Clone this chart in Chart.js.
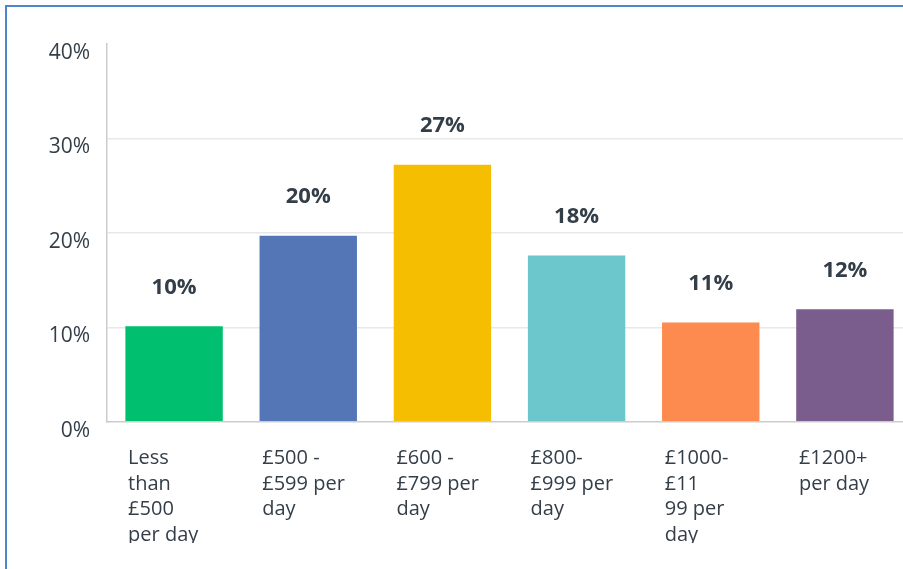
<!DOCTYPE html>
<html>
<head>
<meta charset="utf-8">
<script src="https://cdn.jsdelivr.net/npm/chart.js@4/dist/chart.umd.min.js"></script>
<style>
  html, body { margin: 0; padding: 0; background: #ffffff; overflow: hidden; width: 903px; height: 569px; }
  #c { position: absolute; left: 0; top: 0; }
  #frame { position: absolute; left: 5px; top: 5px; width: 1000px; height: 1000px;
           border-top: 2px solid #4f86c8; border-left: 2px solid #4f86c8; pointer-events: none; }
</style>
</head>
<body>
<canvas id="c" width="912" height="543"></canvas>
<div id="frame"></div>
<script>
// ---- data ----
const categories = [
  ["Less", "than", "£500", "per day"],
  ["£500 -", "£599 per", "day"],
  ["£600 -", "£799 per", "day"],
  ["£800-", "£999 per", "day"],
  ["£1000-", "£11", "99 per", "day"],
  ["£1200+", "per day"]
];
const values = [10.1, 19.7, 27.2, 17.6, 10.5, 11.9];
const barColors = ["#00bf6f", "#5476b6", "#f5be00", "#6bc7cc", "#fd8a4f", "#7a5d8d"];
const yMin = 0, yMax = 40, yStep = 10;

const FONT = "'Open Sans', sans-serif";
const TEXT = "#333e48";

const valueLabels = {
  id: 'valueLabels',
  afterDatasetsDraw(chart) {
    const ctx = chart.ctx;
    const meta = chart.getDatasetMeta(0);
    ctx.save();
    ctx.font = "bold 22px " + FONT;
    ctx.fillStyle = TEXT;
    ctx.textAlign = "center";
    ctx.textBaseline = "middle";
    meta.data.forEach((bar, i) => {
      ctx.fillText(Math.round(values[i]) + "%", bar.x, bar.y - 39);
    });
    ctx.restore();
  }
};

new Chart(document.getElementById('c'), {
  type: 'bar',
  data: {
    labels: categories,
    datasets: [{
      data: values,
      backgroundColor: barColors,
      borderWidth: 0,
      barPercentage: 0.726,
      categoryPercentage: 1.0
    }]
  },
  options: {
    responsive: false,
    animation: false,
    events: [],
    layout: { padding: { left: 0, top: 44, right: 0, bottom: 0 } },
    plugins: { legend: { display: false }, tooltip: { enabled: false } },
    scales: {
      x: {
        grid: { display: false },
        border: { display: true, color: '#cccccc', width: 1.5 },
        ticks: {
          autoSkip: false, maxRotation: 0, minRotation: 0,
          align: 'start', labelOffset: -46, padding: 16,
          color: TEXT,
          font: { family: FONT, size: 20, lineHeight: 1.28 }
        },
        afterFit(scale) {
          scale.height = 121.3;
          scale.paddingLeft = 0;
          scale.paddingRight = 0;
        }
      },
      y: {
        min: yMin, max: yMax,
        grid: {
          drawTicks: false,
          lineWidth: 1.5,
          color: (ctx) => (ctx.tick && (ctx.tick.value === yMax || ctx.tick.value === yMin)) ? 'rgba(0,0,0,0)' : '#e8e8e8'
        },
        border: { display: true, color: '#cccccc', width: 1.5 },
        ticks: {
          stepSize: yStep,
          padding: 17,
          labelOffset: 9,
          color: TEXT,
          font: { family: FONT, size: 21 },
          callback: (v) => v + '%'
        },
        afterFit(scale) {
          scale.width = 107;
          scale.paddingTop = 0;
          scale.paddingBottom = 0;
        }
      }
    }
  },
  plugins: [valueLabels]
});
</script>
</body>
</html>
